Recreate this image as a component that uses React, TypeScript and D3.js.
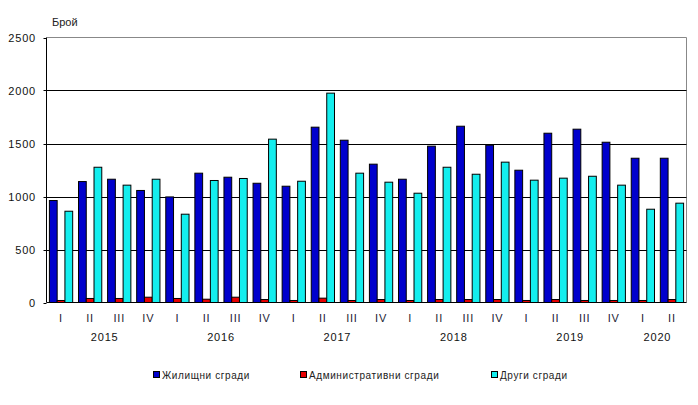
import * as d3 from 'd3';

const quarters = ['I', 'II', 'III', 'IV'];
const years = ['2015', '2016', '2017', '2018', '2019', '2020'];
const categories = [
  '2015-I', '2015-II', '2015-III', '2015-IV',
  '2016-I', '2016-II', '2016-III', '2016-IV',
  '2017-I', '2017-II', '2017-III', '2017-IV',
  '2018-I', '2018-II', '2018-III', '2018-IV',
  '2019-I', '2019-II', '2019-III', '2019-IV',
  '2020-I', '2020-II',
];

const residential = [962, 1141, 1163, 1057, 996, 1220, 1182, 1125, 1097, 1654, 1531, 1305, 1163, 1475, 1663, 1484, 1248, 1597, 1635, 1512, 1361, 1361];
const administrative = [19, 38, 38, 50, 38, 31, 50, 28, 19, 41, 19, 28, 19, 28, 28, 28, 19, 28, 19, 19, 19, 28];
const other = [861, 1276, 1107, 1163, 833, 1151, 1170, 1541, 1144, 1975, 1220, 1135, 1031, 1276, 1210, 1324, 1154, 1173, 1191, 1107, 880, 937];

const seriesNames = ['Жилищни сгради', 'Административни сгради', 'Други сгради'];
const seriesColors = ['#0000cc', '#e80000', '#14eeee'];
const seriesValues = [residential, administrative, other];
const yTicks = [0, 500, 1000, 1500, 2000, 2500];

const W = 698;
const H = 405;
const left = 46.5;
const right = 686.5;
const top = 37.5;
const bottom = 302.5;

const font = '"Liberation Sans", Arial, sans-serif';

export default function App() {
  const x0 = d3.scaleBand<string>().domain(categories).range([left, right]).paddingInner(0.2).paddingOuter(0.1);
  const x1 = d3.scaleBand<number>().domain([0, 1, 2]).range([0, x0.bandwidth()]);
  const y = d3.scaleLinear().domain([0, 2500]).range([bottom, top]);
  const step = x0.step();

  const legendX = [153, 300, 491];

  return (
    <svg width={W} height={H} style={{ position: 'absolute', left: 0, top: 0, background: '#fff' }} fontFamily={font}>
      <text x={52} y={26} fontSize={11} fill="#222">Брой</text>

      {/* frame */}
      <line x1={left} x2={right} y1={top} y2={top} stroke="#888" />
      <line x1={right} x2={right} y1={top} y2={bottom} stroke="#888" />

      {yTicks.slice(1, -1).map(t => (
        <line key={t} x1={left} x2={right} y1={Math.round(y(t)) + 0.5} y2={Math.round(y(t)) + 0.5} stroke="#000" />
      ))}
      {yTicks.map(t => (
        <g key={'t' + t}>
          <line x1={left - 3} x2={left} y1={Math.round(y(t)) + 0.5} y2={Math.round(y(t)) + 0.5} stroke="#000" />
          <text x={36} y={y(t) + 4} fontSize={11} textAnchor="end" letterSpacing={0.8} fill="#111">{t}</text>
        </g>
      ))}

      {categories.map((c, i) => (
        <g key={c} transform={`translate(${x0(c)},0)`}>
          {seriesValues.map((vals, s) => (
            <rect
              key={s}
              x={(x1(s) ?? 0)}
              y={y(vals[i])}
              width={x1.bandwidth()}
              height={bottom - y(vals[i])}
              fill={seriesColors[s]}
              stroke="#000"
              strokeWidth={1}
            />
          ))}
        </g>
      ))}

      <line x1={left} x2={left} y1={top} y2={bottom} stroke="#000" />
      <line x1={left} x2={right} y1={bottom} y2={bottom} stroke="#000" />

      {categories.map((c, i) => (
        <text key={'q' + c} x={(x0(c) ?? 0) + x0.bandwidth() / 2} y={322} fontSize={11} textAnchor="middle" letterSpacing={0.8} fill="#223">
          {quarters[i % 4]}
        </text>
      ))}

      {years.map((yr, k) => {
        const idx = categories.map((c, i) => (c.startsWith(yr) ? i : -1)).filter(i => i >= 0);
        const a = (x0(categories[idx[0]]) ?? 0) - (step - x0.bandwidth()) / 2;
        const b = (x0(categories[idx[idx.length - 1]]) ?? 0) + x0.bandwidth() + (step - x0.bandwidth()) / 2;
        return (
          <text key={yr} x={(a + b) / 2} y={341} fontSize={11} textAnchor="middle" letterSpacing={0.8} fill="#111">
            {yr}
          </text>
        );
      })}

      {seriesNames.map((n, s) => (
        <g key={n} transform={`translate(${legendX[s]},0)`}>
          <rect x={0.5} y={371.5} width={6} height={6} fill={seriesColors[s]} stroke="#000" />
          <text x={9} y={379} fontSize={10} letterSpacing={0.6} fill="#222">{n}</text>
        </g>
      ))}
    </svg>
  );
}
